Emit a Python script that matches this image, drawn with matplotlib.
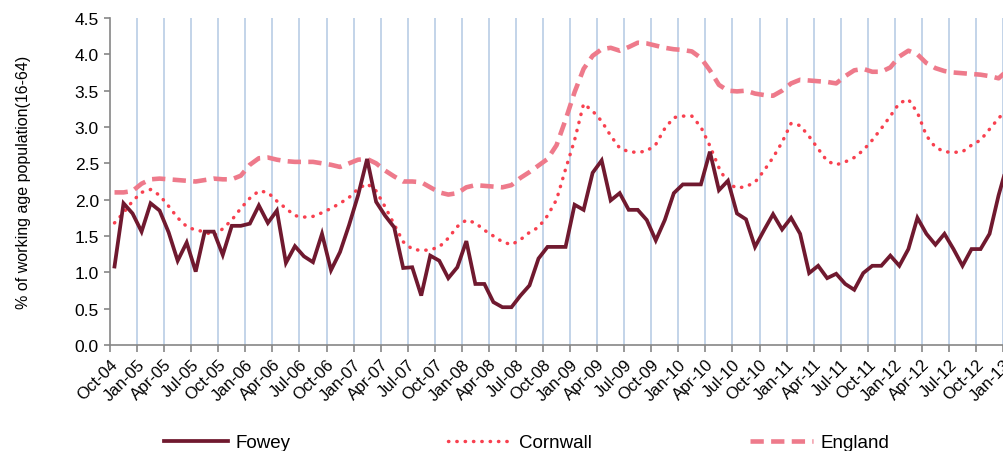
import numpy as np
import matplotlib
matplotlib.use("Agg")
import matplotlib.pyplot as plt

plt.rcParams["font.family"] = ["Liberation Sans", "DejaVu Sans"]

# monthly claimant rates, Oct-04 .. Jan-13
fowey = [1.08, 1.95, 1.81, 1.56, 1.95, 1.85, 1.55, 1.16, 1.41, 1.01,
         1.56, 1.56, 1.24, 1.64, 1.64, 1.67, 1.92, 1.68, 1.85, 1.13,
         1.36, 1.22, 1.14, 1.53, 1.03, 1.28, 1.65, 2.06, 2.56, 1.97,
         1.78, 1.62, 1.06, 1.07, 0.68, 1.23, 1.16, 0.92, 1.07, 1.43,
         0.84, 0.84, 0.59, 0.52, 0.52, 0.68, 0.82, 1.19, 1.35, 1.35,
         1.35, 1.93, 1.86, 2.37, 2.54, 1.99, 2.09, 1.86, 1.86, 1.72,
         1.44, 1.72, 2.09, 2.21, 2.21, 2.21, 2.66, 2.13, 2.26, 1.81,
         1.73, 1.35, 1.58, 1.80, 1.59, 1.75, 1.53, 0.99, 1.09, 0.92,
         0.98, 0.84, 0.76, 0.99, 1.09, 1.09, 1.23, 1.09, 1.32, 1.75,
         1.53, 1.38, 1.53, 1.32, 1.09, 1.32, 1.32, 1.53, 2.06, 2.50]

cornwall = [1.68, 1.82, 1.98, 2.10, 2.14, 2.06, 1.91, 1.75, 1.63, 1.58,
            1.56, 1.50, 1.60, 1.72, 1.88, 2.02, 2.12, 2.10, 1.98, 1.88,
            1.78, 1.76, 1.77, 1.82, 1.88, 1.95, 2.03, 2.15, 2.22, 2.12,
            1.90, 1.66, 1.42, 1.32, 1.30, 1.31, 1.35, 1.47, 1.63, 1.72,
            1.68, 1.58, 1.50, 1.42, 1.38, 1.45, 1.55, 1.62, 1.78, 2.00,
            2.42, 2.82, 3.32, 3.22, 3.08, 2.88, 2.71, 2.66, 2.65, 2.67,
            2.76, 2.98, 3.13, 3.15, 3.15, 3.00, 2.74, 2.44, 2.22, 2.16,
            2.18, 2.24, 2.40, 2.58, 2.79, 3.05, 3.02, 2.87, 2.70, 2.53,
            2.48, 2.52, 2.58, 2.68, 2.82, 2.98, 3.15, 3.33, 3.38, 3.20,
            2.88, 2.72, 2.66, 2.65, 2.66, 2.75, 2.82, 2.97, 3.12, 3.25]

england = [2.10, 2.10, 2.12, 2.22, 2.28, 2.29, 2.28, 2.27, 2.26, 2.25,
           2.27, 2.29, 2.28, 2.28, 2.33, 2.48, 2.57, 2.58, 2.55, 2.53,
           2.52, 2.52, 2.52, 2.50, 2.48, 2.45, 2.50, 2.55, 2.56, 2.50,
           2.40, 2.32, 2.25, 2.25, 2.24, 2.17, 2.10, 2.07, 2.09, 2.17,
           2.20, 2.19, 2.18, 2.17, 2.20, 2.30, 2.38, 2.47, 2.56, 2.75,
           3.10, 3.48, 3.80, 3.98, 4.07, 4.09, 4.05, 4.10, 4.16, 4.15,
           4.12, 4.09, 4.07, 4.06, 4.04, 3.95, 3.78, 3.58, 3.50, 3.49,
           3.50, 3.46, 3.44, 3.43, 3.50, 3.60, 3.65, 3.64, 3.63, 3.62,
           3.60, 3.70, 3.78, 3.80, 3.76, 3.76, 3.82, 3.97, 4.05, 4.00,
           3.88, 3.81, 3.77, 3.75, 3.74, 3.73, 3.72, 3.70, 3.67, 3.78]

quarter_labels = ["Oct-04", "Jan-05", "Apr-05", "Jul-05", "Oct-05", "Jan-06",
                  "Apr-06", "Jul-06", "Oct-06", "Jan-07", "Apr-07", "Jul-07",
                  "Oct-07", "Jan-08", "Apr-08", "Jul-08", "Oct-08", "Jan-09",
                  "Apr-09", "Jul-09", "Oct-09", "Jan-10", "Apr-10", "Jul-10",
                  "Oct-10", "Jan-11", "Apr-11", "Jul-11", "Oct-11", "Jan-12",
                  "Apr-12", "Jul-12", "Oct-12", "Jan-13"]

# each month sits in the middle of its category slot
x = np.arange(len(fowey)) + 0.5
tick_pos = np.arange(len(quarter_labels)) * 3

fig = plt.figure(figsize=(10.04, 4.52), dpi=100)
ax = fig.add_axes([110 / 1004, 106 / 452, 894 / 1004, 327 / 452])

for t in tick_pos[1:]:
    ax.axvline(t, color="#B9CDE5", lw=1.2, zorder=1)

l_eng, = ax.plot(x, england, color="#EE7A8B", lw=3.3,
                 linestyle=(0, (2.9, 1.6)), zorder=3, label="England")
l_cor, = ax.plot(x, cornwall, color="#F8404F", lw=2.5,
                 linestyle=(0, (0.1, 2.3)), dash_capstyle="round",
                 zorder=4, label="Cornwall")
l_fow, = ax.plot(x, fowey, color="#70192F", lw=2.7, zorder=5,
                 solid_joinstyle="miter", label="Fowey")

ax.set_xlim(0, 99.1)
ax.set_ylim(0, 4.5)
ax.set_yticks(np.arange(0, 4.51, 0.5))
ax.set_yticklabels([f"{v:.1f}" for v in np.arange(0, 4.51, 0.5)], fontsize=12.5)
ax.set_xticks(tick_pos)
ax.set_xticklabels(quarter_labels, rotation=45, ha="right", va="top",
                   rotation_mode="anchor", fontsize=12)

for side in ("top", "right"):
    ax.spines[side].set_visible(False)
for side in ("left", "bottom"):
    ax.spines[side].set_color("#868686")
    ax.spines[side].set_linewidth(1.2)
ax.tick_params(axis="both", direction="out", color="#868686", width=1.2)
ax.tick_params(axis="y", length=4, pad=4)
ax.tick_params(axis="x", length=5, pad=3)

ax.set_ylabel("% of working age population(16-64)", fontsize=11.5)
ax.yaxis.set_label_coords(-0.088, 0.5)

fig.legend([l_fow, l_cor, l_eng], ["Fowey", "Cornwall", "England"],
           loc="center", bbox_to_anchor=(0.525, 0.018), ncol=3,
           frameon=False, fontsize=13.5, handlelength=3.4,
           handletextpad=0.4, columnspacing=8.4)

fig.savefig("out.png", dpi=100)
